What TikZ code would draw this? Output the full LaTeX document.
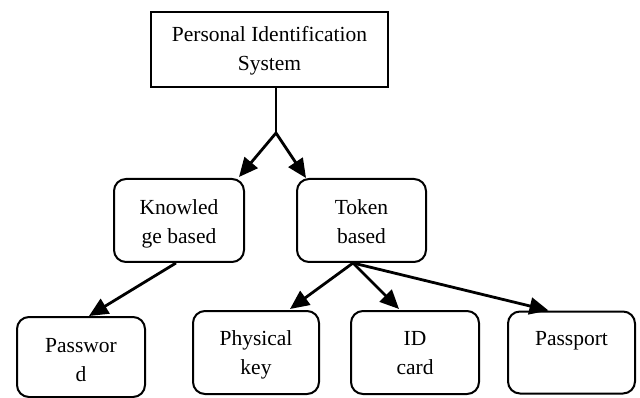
\documentclass[tikz,border=0pt]{standalone}
\usepackage{fontspec}
\setmainfont{Liberation Serif}
\usetikzlibrary{arrows.meta,calc}
% invisible strut that sets the height of a text block's first line
\newcommand{\lowerby}[1]{\rule{0pt}{#1}}
\begin{document}
\begin{tikzpicture}[x=1pt,y=-1pt,
  box/.style={draw=black,line width=2pt,rounded corners=12pt,align=center,
    inner sep=0pt,font=\fontsize{21.5}{28.5}\selectfont},
  topbox/.style={draw=black,line width=1.8pt,align=center,inner sep=0pt,
    font=\fontsize{21.5}{28.5}\selectfont},
  arr/.style={line width=2.8pt,-{Triangle[length=19pt,width=17pt]}},
  stem/.style={line width=1.8pt}]
\useasboundingbox (0,0) rectangle (640,398);
% root of the hierarchy
\node[topbox,minimum width=237pt,minimum height=75pt] (pis) at (269.5,49.5)
  {\lowerby{22pt}Personal Identification\\System\strut};
% second level
\node[box,minimum width=130pt,minimum height=83pt] (know) at (179,220.5)
  {\lowerby{26pt}Knowled\\ge based\strut};
\node[box,minimum width=129pt,minimum height=83pt] (token) at (361.5,220.5)
  {\lowerby{26pt}Token\\based\strut};
% leaves
\node[box,minimum width=128pt,minimum height=80pt] (pwd) at (81,357)
  {\lowerby{29pt}Passwor\\d\strut};
\node[box,minimum width=126pt,minimum height=83pt] (phys) at (256,352.5)
  {\lowerby{24pt}Physical\\key\strut};
\node[box,minimum width=128pt,minimum height=83pt] (idc) at (415,352.5)
  {\lowerby{24pt}ID\\card\strut};
\node[box,minimum width=127pt,minimum height=82pt] (pass) at (571.5,352.5)
  {\lowerby{24pt}Passport\\\strut};
% connectors
\coordinate (split) at (276,133);
\draw[stem] (split |- pis.south) -- (split);
\draw[arr] (split) -- ($(know.north east)+(-6,-1)$);
\draw[arr] (split) -- ($(token.north west)+(10,0)$);
\draw[arr] ($(know.south)+(-3,0)$) -- ($(pwd.north)+(8,0)$);
\coordinate (fan) at ($(token.south)+(-8.5,0)$);
\draw[arr] (fan) -- ($(phys.north)+(34,-1)$);
\draw[arr] (fan) -- ($(idc.north)+(-16,-1)$);
\draw[arr] (fan) -- ($(pass.north)+(-23,0)$);
\end{tikzpicture}
\end{document}
